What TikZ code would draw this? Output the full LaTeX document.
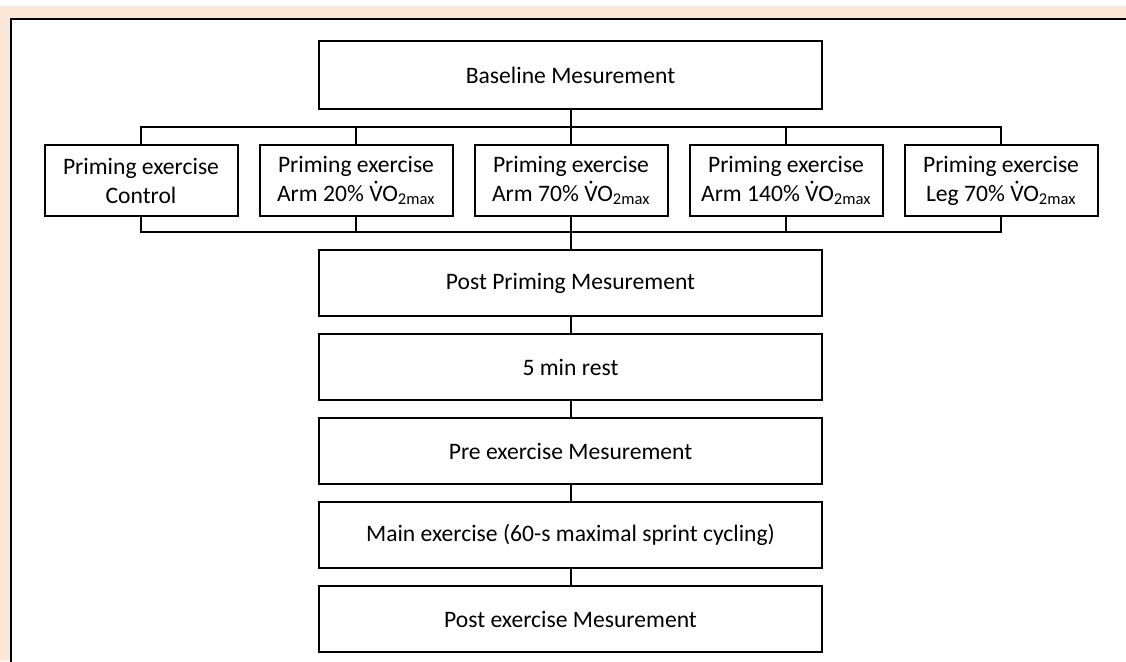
\documentclass[tikz,border=0pt]{standalone}
\usepackage{fontspec}
\setmainfont{Carlito}
\usetikzlibrary{positioning}
\definecolor{peach}{HTML}{FCE8D9}

% V with a dot over it (no combining dot in Carlito)
\newcommand{\vo}{\accent"02D9 VO\textsubscript{2max}}

\begin{document}
\begin{tikzpicture}[x=1pt,y=-1pt,line width=2pt,node distance=16pt and 20pt,
                    font=\fontsize{23.6}{29}\selectfont]
  \tikzstyle{stage}=[draw,minimum width=503pt,minimum height=66pt,inner sep=0pt]
  \tikzstyle{prime}=[draw,minimum width=193pt,minimum height=71pt,inner sep=0pt,align=center]

  \clip (0,0) rectangle (1126,661);
  \fill[white] (0,0) rectangle (1126,661);
  \fill[peach] (0,6) rectangle (1126,661);
  \draw[fill=white,line width=2.4pt] (11,19) rectangle (1140,680);

  \node[stage,minimum height=68pt] (base) at (570.5,75) {Baseline Mesurement};

  \node[prime] (arm70) at (571,180.5) {Priming exercise\\Arm 70\% \vo};
  \node[prime] (arm20)  [left=of arm70]  {Priming exercise\\Arm 20\% \vo};
  \node[prime] (ctrl)   [left=of arm20]  {Priming exercise\\Control};
  \node[prime] (arm140) [right=of arm70] {Priming exercise\\Arm 140\% \vo};
  \node[prime] (leg70)  [right=of arm140] {Priming exercise\\Leg 70\% \vo};

  \node[stage] (postprim) at (570.5,283) {Post Priming Mesurement};
  \node[stage] (rest) [below=of postprim] {5 min rest};
  \node[stage] (pre)  [below=of rest]     {Pre exercise Mesurement};
  \node[stage] (main) [below=of pre]      {Main exercise (60-s maximal sprint cycling)};
  \node[stage] (post) [below=of main]     {Post exercise Mesurement};

  \foreach \n in {ctrl,arm20,arm70,arm140,leg70}{
    \draw (base.south) -- ++(0,17) -| (\n.north);
    \draw (\n.south) -- ++(0,15) -| (postprim.north);
  }
  \foreach \a/\b in {postprim/rest,rest/pre,pre/main,main/post}
    \draw (\a.south) -- (\b.north);
\end{tikzpicture}
\end{document}
